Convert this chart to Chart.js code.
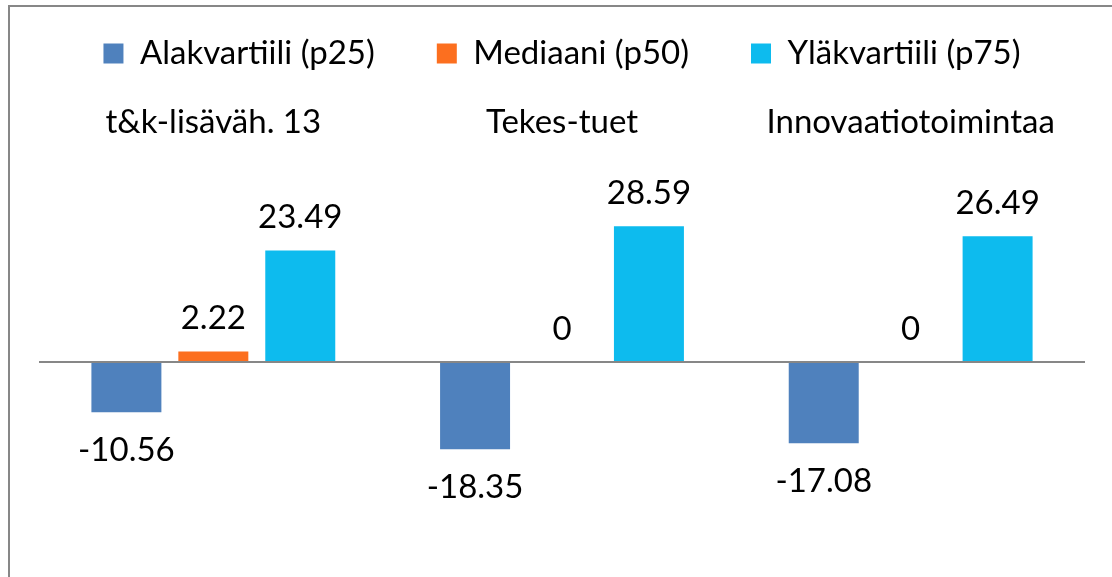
<!DOCTYPE html>
<html>
<head>
<meta charset="utf-8">
<script src="https://cdn.jsdelivr.net/npm/chart.js@4/dist/chart.umd.min.js"></script>
<style>
  html, body { margin: 0; padding: 0; background: #fff; }
  #wrap { width: 1112px; height: 577px; }
</style>
</head>
<body>
<div id="wrap"><canvas id="chart" width="1112" height="577"></canvas></div>
<script>
const categories = ["t&k-lisäväh. 13", "Tekes-tuet", "Innovaatiotoimintaa"];
const seriesNames = ["Alakvartiili (p25)", "Mediaani (p50)", "Yläkvartiili (p75)"];
const p25 = [-10.56, -18.35, -17.08];
const p50 = [2.22, 0, 0];
const p75 = [23.49, 28.59, 26.49];
const colors = ["#4F81BD", "#FC6F1F", "#0DBBEE"];

const FONT = "Lato";
const SIZE = 33;

// frame around the chart (runs off the right and bottom edges like the source)
const framePlugin = {
  id: "frame",
  beforeDraw(chart) {
    const ctx = chart.ctx;
    ctx.save();
    ctx.strokeStyle = "#878787";
    ctx.lineWidth = 2;
    ctx.strokeRect(9, 6, 1200, 700);
    ctx.restore();
  },
};

// value labels outside the bar ends
const valueLabels = {
  id: "valueLabels",
  afterDatasetsDraw(chart) {
    const ctx = chart.ctx;
    ctx.save();
    ctx.font = `${SIZE}px ${FONT}`;
    ctx.fillStyle = "#000";
    ctx.textAlign = "center";
    ctx.textBaseline = "alphabetic";
    chart.data.datasets.forEach((ds, i) => {
      chart.getDatasetMeta(i).data.forEach((bar, j) => {
        const v = ds.data[j];
        const y = v >= 0 ? bar.y - 22 : bar.y + 49;
        ctx.fillText(String(v), bar.x, y);
      });
    });
    ctx.restore();
  },
};

new Chart(document.getElementById("chart"), {
  type: "bar",
  data: {
    labels: categories,
    datasets: [
      { label: seriesNames[0], data: p25, backgroundColor: colors[0] },
      { label: seriesNames[1], data: p50, backgroundColor: colors[1] },
      { label: seriesNames[2], data: p75, backgroundColor: colors[2] },
    ],
  },
  options: {
    responsive: false,
    animation: false,
    devicePixelRatio: 1,
    categoryPercentage: 0.748,
    barPercentage: 0.805,
    layout: {
      padding: { left: 39, right: 27, top: -25, bottom: 25 },
    },
    scales: {
      x: {
        position: "top",
        grid: { display: false, drawTicks: false },
        border: { display: false },
        ticks: {
          color: "#000",
          font: { family: FONT, size: SIZE },
          padding: 30,
          maxRotation: 0,
        },
        afterFit(scale) {
          scale.height = 92;
        },
      },
      y: {
        min: -40,
        max: 40,
        ticks: { display: false, stepSize: 10 },
        border: { display: false },
        grid: {
          drawTicks: false,
          lineWidth: 2,
          color: (c) => (c.tick && c.tick.value === 0 ? "#878787" : "rgba(0,0,0,0)"),
        },
      },
    },
    plugins: {
      legend: {
        position: "top",
        labels: {
          color: "#000",
          boxWidth: 20,
          boxHeight: 20,
          padding: 62,
          font: { family: FONT, size: SIZE },
        },
      },
      tooltip: { enabled: false },
    },
  },
  plugins: [framePlugin, valueLabels],
});
</script>
</body>
</html>
